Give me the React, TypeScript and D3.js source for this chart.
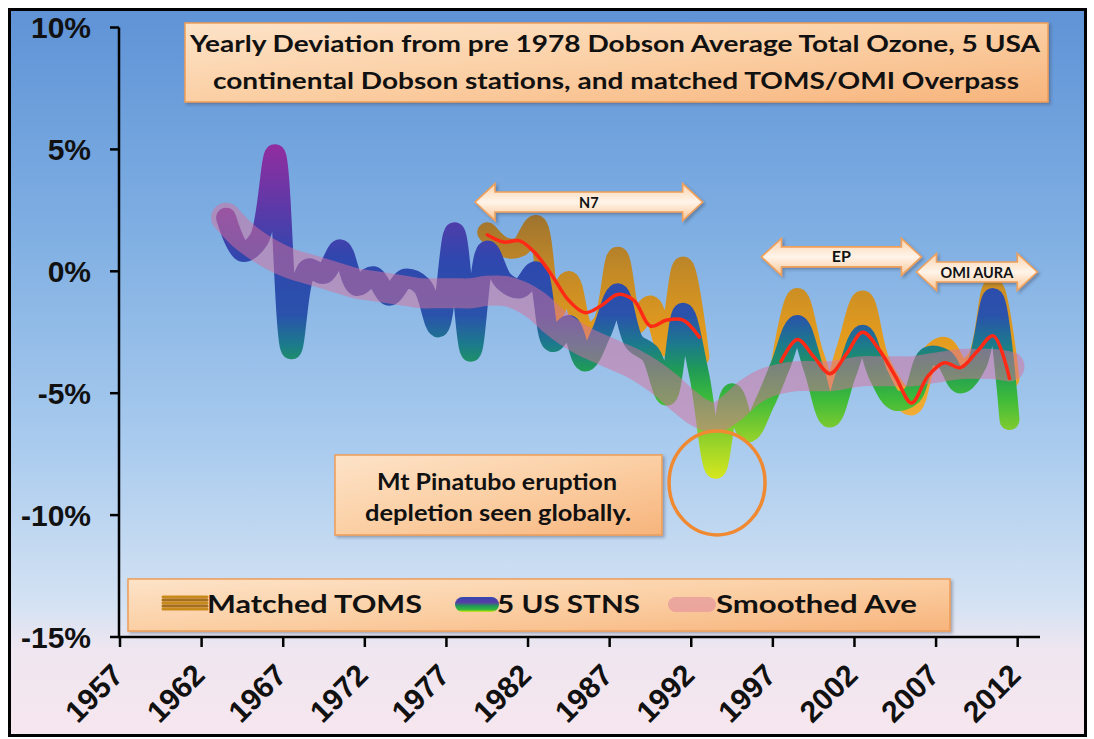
import React from 'react';
import * as d3 from 'd3';

const W = 1094;
const H = 739;

// ---- categories / ticks ----
const xTickLabels = ['1957', '1962', '1967', '1972', '1977', '1982', '1987', '1992', '1997', '2002', '2007', '2012'];
const yTickValues = [10, 5, 0, -5, -10, -15];

// ---- series (yearly deviation, %) ----
const stnsStartYear = 1963;
const stnsValues = [
  2.2, 0.8, 1.3, 4.8, -3.2, 0.1, -0.1, 0.9, -0.6, -0.2,
  -1.0, -0.3, -0.6, -2.3, 1.6, -3.3, 0.85, -0.4, -0.7, 0.0,
  -2.9, -2.2, -3.7, -2.5, -0.9, -2.9, -3.4, -5.1, -1.7, -4.3,
  -8.1, -5.0, -6.6, -5.4, -3.8, -2.2, -4.0, -6.0, -4.2, -2.6,
  -4.3, -5.3, -5.1, -3.5, -3.6, -4.6, -3.8, -1.1, -6.1,
];

const smoothStartYear = 1963;
const smoothValues = [
  2.2, 1.5, 1.0, 0.6, 0.3, 0.1, -0.1, -0.3, -0.5, -0.6,
  -0.7, -0.8, -0.9, -0.9, -0.9, -0.9, -0.8, -0.8, -1.0, -1.4,
  -2.0, -2.5, -2.9, -3.2, -3.5, -3.8, -4.2, -4.7, -5.3, -5.8,
  -6.0, -5.6, -5.0, -4.6, -4.4, -4.3, -4.3, -4.3, -4.2, -4.1,
  -4.1, -4.1, -4.1, -4.0, -3.9, -3.8, -3.8, -3.8, -3.9,
];

const tomsStartYear = 1979;
const tomsValues: (number | null)[] = [
  1.6, 1.0, 1.0, 1.9, -1.7, -0.4, -2.5, -2.2, 0.6, -2.2,
  -1.4, -3.1, 0.2, -3.5, null, null, null, null, -3.8, -1.1,
  -3.4, -5.0, -3.2, -1.2, -3.6, -4.8, -5.5, -3.6, -3.1, -4.0,
  -3.6, -0.7, -4.4,
];
const tomsMeanValues: (number | null)[] = [
  1.5, 1.2, 1.25, 0.7, -0.2, -1.2, -1.7, -1.4, -0.95, -1.2,
  -2.25, -2.0, -2.0, -2.7, null, null, null, null, -3.7, -2.8,
  -3.5, -4.2, -3.4, -2.5, -3.2, -4.3, -5.4, -4.3, -3.75, -3.95,
  -3.3, -2.65, -4.4,
];

const legendLabels = ['Matched TOMS', '5 US STNS', 'Smoothed Ave'];
const titleLines = [
  'Yearly Deviation from pre 1978 Dobson Average Total Ozone,  5 USA',
  'continental Dobson stations, and matched TOMS/OMI Overpass',
];
const noteLines = ['Mt Pinatubo eruption', 'depletion seen globally.'];

// instrument periods
const instrumentLabels = ['N7', 'EP', 'OMI AURA'];
const instrumentFrom = [1978.25, 1995.8, 2005.3];
const instrumentTo = [1992.2, 2005.6, 2012.7];
const instrumentLevel = [2.84, 0.59, -0.03];

const toPairs = (start: number, vals: (number | null)[]) =>
  vals.map((v, i) => [start + i, v] as [number, number | null]);

export default function App() {
  const x = d3.scaleLinear().domain([1956.5, 2012.5]).range([120, 1034]);
  const y = d3.scaleLinear().domain([-15, 10]).range([637, 27.5]);

  const line = d3
    .line<[number, number | null]>()
    .defined((d) => d[1] != null)
    .x((d) => x(d[0]))
    .y((d) => y(d[1] as number))
    .curve(d3.curveCatmullRom.alpha(0.5));

  const stnsPath = line(toPairs(stnsStartYear, stnsValues)) || '';
  const smoothPath = line(toPairs(smoothStartYear, smoothValues)) || '';
  const tomsPath = line(toPairs(tomsStartYear, tomsValues)) || '';
  const tomsMeanPath = line(toPairs(tomsStartYear, tomsMeanValues)) || '';

  const gTop = y(5);
  const gBot = y(-8.6);
  const off = (v: number) => ((y(v) - gTop) / (gBot - gTop)).toFixed(3);

  const arrowPath = (x1: number, x2: number, yc: number) => {
    const hh = 18.5, sh = 10, hl = 20;
    return `M${x1},${yc} L${x1 + hl},${yc - hh} L${x1 + hl},${yc - sh} L${x2 - hl},${yc - sh} L${x2 - hl},${yc - hh} L${x2},${yc} L${x2 - hl},${yc + hh} L${x2 - hl},${yc + sh} L${x1 + hl},${yc + sh} L${x1 + hl},${yc + hh} Z`;
  };

  const axisFont = '"Liberation Sans", Arial, sans-serif';
  const boxFont = 'Lato, "Open Sans", sans-serif';

  const tickStep = ((x.range()[1] - x.range()[0]) / 56) * 5;

  return (
    <svg
      width={W}
      height={H}
      viewBox={`0 0 ${W} ${H}`}
      style={{ position: 'absolute', left: 0, top: 0, display: 'block', background: '#fff' }}
    >
      <defs>
        <linearGradient id="bg" x1="0" y1="0" x2="0" y2="1">
          <stop offset="0" stopColor="#5f93d6" />
          <stop offset="0.3" stopColor="#7eaee2" />
          <stop offset="0.6" stopColor="#a9cbee" />
          <stop offset="0.82" stopColor="#d4e2f3" />
          <stop offset="0.88" stopColor="#eee6f0" />
          <stop offset="1" stopColor="#f7e6ee" />
        </linearGradient>
        <linearGradient id="peach" x1="0" y1="0" x2="1" y2="1">
          <stop offset="0" stopColor="#fde3c8" />
          <stop offset="0.5" stopColor="#fbcfa4" />
          <stop offset="1" stopColor="#f7b47c" />
        </linearGradient>
        <linearGradient id="arrowFill" x1="0" y1="0" x2="0" y2="1">
          <stop offset="0" stopColor="#fbd3ac" />
          <stop offset="0.5" stopColor="#fff4ea" />
          <stop offset="1" stopColor="#f8c594" />
        </linearGradient>
        <linearGradient id="stnsGrad" gradientUnits="userSpaceOnUse" x1="0" y1={gTop} x2="0" y2={gBot}>
          <stop offset={off(5)} stopColor="#8e2ea0" />
          <stop offset={off(2.5)} stopColor="#5a3aa8" />
          <stop offset={off(0.5)} stopColor="#2f47ae" />
          <stop offset={off(-1.8)} stopColor="#2a52ab" />
          <stop offset={off(-3.0)} stopColor="#1c7a8c" />
          <stop offset={off(-4.0)} stopColor="#1f9a58" />
          <stop offset={off(-5.2)} stopColor="#3cba3a" />
          <stop offset={off(-6.8)} stopColor="#8ed02c" />
          <stop offset={off(-8.6)} stopColor="#dbe81c" />
        </linearGradient>
        <linearGradient id="tomsGrad" gradientUnits="userSpaceOnUse" x1="0" y1={y(2.5)} x2="0" y2={y(-6)}>
          <stop offset="0" stopColor="#9c7230" />
          <stop offset="0.3" stopColor="#c48a26" />
          <stop offset="0.6" stopColor="#e39b1e" />
          <stop offset="1" stopColor="#f2ad36" />
        </linearGradient>
        <linearGradient id="stnsSwatch" x1="0" y1="0" x2="0" y2="1">
          <stop offset="0" stopColor="#3049ae" />
          <stop offset="0.35" stopColor="#5a3aa8" />
          <stop offset="0.6" stopColor="#1f9a58" />
          <stop offset="0.85" stopColor="#3cba3a" />
          <stop offset="1" stopColor="#dbe81c" />
        </linearGradient>
        <filter id="shadow" x="-5%" y="-20%" width="110%" height="150%">
          <feDropShadow dx="2" dy="2" stdDeviation="1.8" floodColor="#334" floodOpacity="0.35" />
        </filter>
      </defs>

      {/* background + frame */}
      <rect x={9.5} y={9.5} width={1076} height={726} fill="url(#bg)" stroke="#000" strokeWidth={3} />

      {/* title */}
      <g filter="url(#shadow)">
        <rect x={185} y={23} width={863} height={79} fill="url(#peach)" stroke="#ef9d55" strokeWidth={1.5} />
      </g>
      <g fontFamily={boxFont} fontWeight={700} fontSize={23} fill="#111" style={{ whiteSpace: 'pre' }}>
        <text x={190} y={52} textLength={850} lengthAdjust="spacingAndGlyphs">{titleLines[0]}</text>
        <text x={213} y={89} textLength={806} lengthAdjust="spacingAndGlyphs">{titleLines[1]}</text>
      </g>

      {/* series: TOMS below, stations, smoothed, TOMS mean */}
      <path d={tomsPath} fill="none" stroke="url(#tomsGrad)" strokeWidth={20} strokeLinecap="round" strokeLinejoin="round" />
      <path d={stnsPath} fill="none" stroke="url(#stnsGrad)" strokeWidth={20} strokeLinecap="round" strokeLinejoin="round" />
      <path d={smoothPath} fill="none" stroke="#d8709c" strokeOpacity={0.5} strokeWidth={30} strokeLinecap="round" strokeLinejoin="round" />
      <path d={tomsMeanPath} fill="none" stroke="#ff2a16" strokeWidth={3.5} strokeLinecap="round" strokeLinejoin="round" />

      {/* instrument arrows */}
      {instrumentLabels.map((lab, i) => {
        const x1 = x(instrumentFrom[i]);
        const x2 = x(instrumentTo[i]);
        const yc = y(instrumentLevel[i]);
        return (
          <g key={lab}>
            <path d={arrowPath(x1, x2, yc)} fill="url(#arrowFill)" stroke="#f0a05a" strokeWidth={1.6} filter="url(#shadow)" />
            <text x={(x1 + x2) / 2} y={yc + 5.5} textAnchor="middle" fontFamily={boxFont} fontWeight={700} fontSize={i === 1 ? 16 : 14.5} fill="#111">
              {lab}
            </text>
          </g>
        );
      })}

      {/* Pinatubo note */}
      <g filter="url(#shadow)">
        <rect x={335} y={455} width={327} height={80} fill="url(#peach)" stroke="#ef9d55" strokeWidth={1.5} />
      </g>
      <g fontFamily={boxFont} fontWeight={700} fontSize={23} fill="#111">
        <text x={377} y={490} textLength={240} lengthAdjust="spacingAndGlyphs">{noteLines[0]}</text>
        <text x={365} y={521} textLength={266} lengthAdjust="spacingAndGlyphs">{noteLines[1]}</text>
      </g>
      <ellipse cx={x(1993.08)} cy={y(-8.68)} rx={48} ry={52} fill="none" stroke="#f08a32" strokeWidth={3.5} />

      {/* legend */}
      <g filter="url(#shadow)">
        <rect x={128} y={579} width={822} height={52} fill="url(#peach)" stroke="#ef9d55" strokeWidth={1.5} />
      </g>
      {[0, 1, 2, 3, 4].map((k) => (
        <line key={k} x1={163} x2={207} y1={597 + k * 3} y2={597 + k * 3} stroke={k % 2 === 0 ? '#c98a1c' : '#a56f22'} strokeWidth={3} strokeLinecap="round" />
      ))}
      <rect x={455} y={597} width={44} height={15} rx={7.5} fill="url(#stnsSwatch)" />
      <rect x={668} y={597} width={48} height={15} rx={7.5} fill="#e79c9c" opacity={0.8} />
      <g fontFamily={boxFont} fontWeight={700} fontSize={25.5} fill="#111">
        <text x={207} y={613} textLength={215} lengthAdjust="spacingAndGlyphs">{legendLabels[0]}</text>
        <text x={497} y={613} textLength={143} lengthAdjust="spacingAndGlyphs">{legendLabels[1]}</text>
        <text x={716} y={613} textLength={201} lengthAdjust="spacingAndGlyphs">{legendLabels[2]}</text>
      </g>

      {/* y axis */}
      <line x1={119} x2={119} y1={y(10)} y2={y(-15) + 1} stroke="#000" strokeWidth={2.5} />
      {yTickValues.map((v) => (
        <g key={v}>
          <line x1={110} x2={119} y1={y(v)} y2={y(v)} stroke="#000" strokeWidth={2.5} />
          <text x={91} y={y(v) + 10.8} textAnchor="end" fontFamily={axisFont} fontWeight={700} fontSize={30} fill="#111">
            {`${v}%`}
          </text>
        </g>
      ))}

      {/* x axis */}
      <line x1={118} x2={1040} y1={y(-15)} y2={y(-15)} stroke="#000" strokeWidth={2.5} />
      {xTickLabels.map((lab, i) => {
        const tx = x(1956.5) + i * tickStep;
        return (
          <g key={lab}>
            <line x1={tx} x2={tx} y1={y(-15)} y2={y(-15) + 10} stroke="#000" strokeWidth={2.5} />
            <text
              transform={`translate(${tx + 5},${677}) rotate(-45)`}
              textAnchor="end"
              fontFamily={axisFont}
              fontWeight={700}
              fontSize={30}
              fill="#111"
            >
              {lab}
            </text>
          </g>
        );
      })}
    </svg>
  );
}
